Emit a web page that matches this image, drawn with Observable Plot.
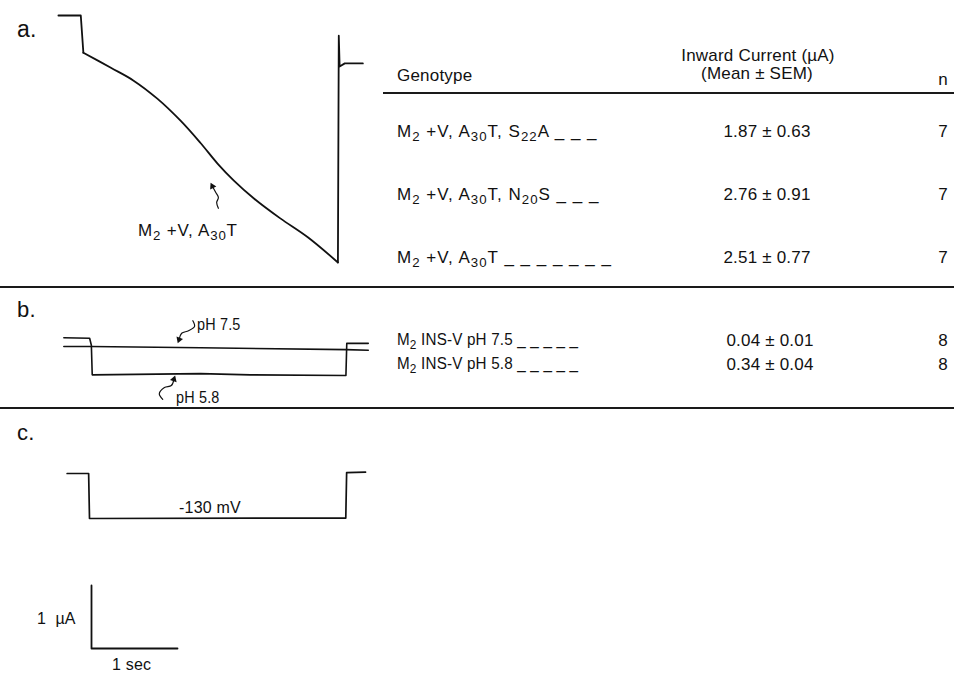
<!DOCTYPE html>
<html><head><meta charset="utf-8">
<script src="https://cdn.jsdelivr.net/npm/d3@7"></script>
<script src="https://cdn.jsdelivr.net/npm/@observablehq/plot@0.6"></script>
<style>
body{margin:0;background:#fff}
#fig{position:relative;width:954px;height:674px;overflow:hidden;font-family:"Liberation Sans",Arial,Helvetica,sans-serif;color:#111;background:#fff}
.t{position:absolute;white-space:nowrap;letter-spacing:0.2px}
.t sub{font-size:0.78em;vertical-align:-0.32em;line-height:0}
.pw{position:absolute;left:0}
.rule{position:absolute;background:#1a1a1a}
</style></head><body><div id="fig"></div>
<script>
// ---------- table data ----------
const genotypesA = ["M<sub>2</sub> +V, A<sub>30</sub>T, S<sub>22</sub>A", "M<sub>2</sub> +V, A<sub>30</sub>T, N<sub>20</sub>S", "M<sub>2</sub> +V, A<sub>30</sub>T"];
const leaderA = [3, 3, 7];
const meanA = [1.87, 2.76, 2.51];
const semA = [0.63, 0.91, 0.77];
const nA = [7, 7, 7];

const conditionsB = ["M<sub>2</sub> INS-V pH 7.5", "M<sub>2</sub> INS-V pH 5.8"];
const leaderB = [5, 5];
const meanB = [0.04, 0.34];
const semB = [0.01, 0.04];
const nB = [8, 8];

// ---------- trace data (time in s from pulse onset, current in µA, voltage in mV) ----------
const aTime    = [-0.28, -0.02, 0.01, 0.33, 0.59, 0.87, 1.14, 1.37, 1.57, 1.76, 1.99, 2.30, 2.62, 2.97, 2.98, 2.99, 3.05, 3.26];
const aCurrent = [0, 0, -0.59, -0.83, -1.03, -1.32, -1.67, -2.02, -2.35, -2.62, -2.90, -3.22, -3.52, -3.92, -0.32, -0.81, -0.76, -0.76];
// index ranges: pre-pulse step | smooth decay during pulse | tail
const aSegments = [[0, 2, "linear"], [2, 13, "catmull-rom"], [13, 17, "linear"]];

const b75Time    = [-0.31, 0, 1.28, 2.97, 3.23];
const b75Current = [0, 0, -0.02, -0.05, -0.06];
const b58Time    = [-0.31, -0.01, 0.01, 0.02, 1.28, 1.86, 2.97, 2.98, 3.23];
const b58Current = [0.14, 0.13, 0.02, -0.45, -0.43, -0.45, -0.46, 0.05, 0.05];

const cTime    = [-0.26, -0.01, 0, 2.98, 2.99, 3.21];
const cVoltage = [-30, -30, -130, -129, -28, -27];

const barTime = [0, 0, 1];
const barCurrent = [1, 0, 0];

// annotation arrows (squiggles)
const arrowA   = {t: [1.58, 1.56, 1.58, 1.55, 1.51], v: [-3.06, -2.97, -2.89, -2.81, -2.71], rot: -26};
const arrow75  = {t: [1.19, 1.21, 1.14, 1.06, 1.03], v: [0.41, 0.32, 0.25, 0.21, 0.11], rot: 200};
const arrow58  = {t: [0.84, 0.80, 0.86, 0.94, 0.97], v: [-0.84, -0.75, -0.65, -0.62, -0.52], rot: 18};

// ---------- layout helpers ----------
const fig = document.getElementById("fig");
const W = 380, pxPerSec = 86, pxPerUA = 63, pxPerMV = 0.45;
const ink = "#111";

function xDomain(onsetPx) { return [-onsetPx / pxPerSec, (W - onsetPx) / pxPerSec]; }
function yDomain(zeroPx, zeroVal, ppu, h) { return [zeroVal - (h - zeroPx) / ppu, zeroVal + zeroPx / ppu]; }
const zip = (a, b) => a.map((d, i) => ({t: d, v: b[i]}));

function arrowMarks(ar) {
  const pts = zip(ar.t, ar.v);
  return [
    Plot.line(pts, {x: "t", y: "v", curve: "catmull-rom", stroke: ink, strokeWidth: 1.2}),
    Plot.dot([pts[pts.length - 1]], {x: "t", y: "v", symbol: "triangle2", r: 3.3, fill: ink, rotate: ar.rot})
  ];
}

function panel(top, height, onsetPx, yDom, marks) {
  const svg = Plot.plot({
    width: W, height, margin: 0,
    x: {domain: xDomain(onsetPx), axis: null},
    y: {domain: yDom, axis: null},
    style: {background: "transparent", overflow: "visible"},
    marks
  });
  const wrap = document.createElement("div");
  wrap.className = "pw";
  wrap.style.top = top + "px";
  wrap.appendChild(svg);
  fig.appendChild(wrap);
}

function label(html, x, base, size, align = "left", extra = {}) {
  const d = document.createElement("div");
  d.className = "t";
  d.innerHTML = html;
  d.style.fontSize = size + "px";
  d.style.lineHeight = size + "px";
  d.style.top = (base - 0.8465 * size) + "px";
  if (align === "left") d.style.left = x + "px";
  else if (align === "right") d.style.right = (954 - x) + "px";
  else { d.style.left = x + "px"; d.style.transform = "translateX(-50%)"; }
  Object.assign(d.style, extra);
  fig.appendChild(d);
  return d;
}
function rule(x, y, w, h) {
  const d = document.createElement("div");
  d.className = "rule";
  Object.assign(d.style, {left: x + "px", top: y + "px", width: w + "px", height: h + "px"});
  fig.appendChild(d);
}
const dashes = k => " " + Array(k).fill("_").join(" ");

// ---------- panel a ----------
const aPts = zip(aTime, aCurrent);
panel(0, 287, 82, yDomain(15, 0, pxPerUA, 287), [
  ...aSegments.map(([s, e, curve]) =>
    Plot.line(aPts.slice(s, e + 1), {x: "t", y: "v", curve, stroke: ink, strokeWidth: 1.8, strokeLinejoin: "round"})),
  ...arrowMarks(arrowA)
]);
label("a.", 17, 37, 23);
label("M<sub>2</sub> +V, A<sub>30</sub>T", 138, 236, 17, "left", {letterSpacing: "0.8px"});

label("Inward Current (µA)", 758, 61, 17, "center");
label("(Mean ± SEM)", 757, 79, 17, "center");
label("Genotype", 397, 81, 17);
label("n", 948, 85, 17, "right");
rule(383, 92, 571, 2);

const rowBaseA = [137, 200, 263];
genotypesA.forEach((g, i) => {
  label(g + dashes(leaderA[i]), 397, rowBaseA[i], 17, "left", {letterSpacing: "1px"});
  label(meanA[i].toFixed(2) + " ± " + semA[i].toFixed(2), 767, rowBaseA[i], 17, "center");
  label(String(nA[i]), 948, rowBaseA[i], 17, "right");
});
rule(0, 286, 954, 2);

// ---------- panel b ----------
panel(288, 120, 90, yDomain(58, 0, pxPerUA, 120), [
  Plot.line(zip(b75Time, b75Current), {x: "t", y: "v", stroke: ink, strokeWidth: 1.6}),
  Plot.line(zip(b58Time, b58Current), {x: "t", y: "v", stroke: ink, strokeWidth: 1.6}),
  ...arrowMarks(arrow75),
  ...arrowMarks(arrow58)
]);
label("b.", 17, 318, 22);
label("pH 7.5", 197, 331, 16, "left", {transform: "scaleX(0.9)", transformOrigin: "left"});
label("pH 5.8", 176, 404, 16, "left", {transform: "scaleX(0.9)", transformOrigin: "left"});
const rowBaseB = [346, 370];
conditionsB.forEach((c, i) => {
  label(c + dashes(leaderB[i]), 397, rowBaseB[i], 16, "left", {transform: "scaleX(0.95)", transformOrigin: "left"});
  label(meanB[i].toFixed(2) + " ± " + semB[i].toFixed(2), 770, rowBaseB[i], 17, "center");
  label(String(nB[i]), 948, rowBaseB[i], 17, "right");
});
rule(0, 407, 954, 2);

// ---------- panel c ----------
panel(408, 137, 89, yDomain(65, -30, pxPerMV, 137), [
  Plot.line(zip(cTime, cVoltage), {x: "t", y: "v", stroke: ink, strokeWidth: 1.7})
]);
label("c.", 17, 441, 22);
label("-130 mV", 210, 514, 16, "center");

panel(545, 129, 91, yDomain(103, 0, pxPerUA, 129), [
  Plot.line(zip(barTime, barCurrent), {x: "t", y: "v", stroke: ink, strokeWidth: 1.8})
]);
label("1 &nbsp;µA", 37, 625, 16);
label("1 sec", 112, 671, 16);
</script></body></html>
